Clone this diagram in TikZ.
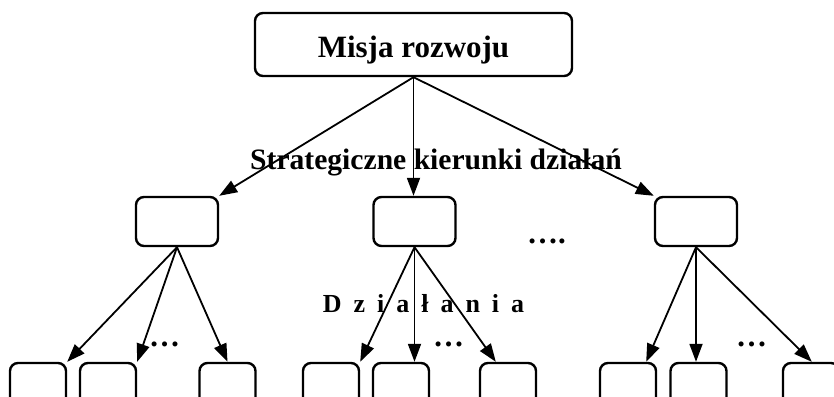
\documentclass[tikz,border=0pt]{standalone}
\usepackage{fontspec}
\setmainfont{Liberation Serif}
\usetikzlibrary{arrows.meta,calc}
\newcommand{\lsp}{\hspace{12pt}}
\begin{document}
\begin{tikzpicture}[x=1pt,y=-1pt,
  box/.style={draw,line width=2.4pt,rounded corners=8pt,inner sep=0pt},
  midbox/.style={box,minimum width=82pt,minimum height=49pt},
  lowbox/.style={box,minimum width=56pt,minimum height=60pt},
  arr/.style={line width=1.8pt,-{Triangle[length=18pt,width=13pt]}},
  lbl/.style={font=\bfseries,inner sep=0pt,anchor=base}]
\useasboundingbox (0,0) rectangle (834,396);
\clip (0,0) rectangle (834,396);
% top
\node[box,minimum width=317pt,minimum height=63pt] (top) at (413.5,44.5) {};
\node[lbl,font=\bfseries\fontsize{31}{36}\selectfont] (toptext) at (413.5,57) {Misja rozwoju};
% level 2
\node[midbox] (left) at (177,221.5) {};
\node[midbox] (mid) at (414.5,221.5) {};
\node[midbox] (right) at (696,221.5) {};
% level 3
\node[lowbox] (b1) at (38,393) {};
\node[lowbox] (b2) at (108,393) {};
\node[lowbox] (b3) at (227.5,393) {};
\node[lowbox] (b4) at (331,393) {};
\node[lowbox] (b5) at (401,393) {};
\node[lowbox] (b6) at (508,393) {};
\node[lowbox] (b7) at (628,393) {};
\node[lowbox] (b8) at (698.5,393) {};
\node[lowbox] (b9) at (811,393) {};
% arrows
\draw[arr] (top.south) -- (left.north east);
\draw[arr] (top.south) -- (top.south |- mid.north);
\draw[arr] (top.south) -- (right.north west);
\draw[arr] (left.south) -- (b1.north east);
\draw[arr] (left.south) -- (b2.north east);
\draw[arr] (left.south) -- (b3.north);
\draw[arr] (mid.south) -- (b4.north east);
\draw[arr] (mid.south) -- (mid.south |- b5.north);
\draw[arr] (mid.south) -- ($(b6.north west)+(17,0)$);
\draw[arr] (right.south) -- ($(b7.north east)+(-11,0)$);
\draw[arr] (right.south) -- (right.south |- b8.north);
\draw[arr] (right.south) -- ($(b9.north west)+(30,0)$);
% labels
\node[lbl,font=\bfseries\fontsize{29.6}{34}\selectfont] (strat) at (436,169) {Strategiczne kierunki działań};
\node[lbl,font=\bfseries\fontsize{26}{30}\selectfont] (dzial) at (423.5,312) {D\lsp z\lsp i\lsp a\lsp ł\lsp a\lsp n\lsp i\lsp a};
\node[lbl,anchor=base west,font=\bfseries\fontsize{31}{36}\selectfont] (dots4) at (527,243) {….};
\node[lbl,anchor=base west,font=\bfseries\fontsize{31}{36}\selectfont] (dotsL) at (149,346) {…};
\node[lbl,anchor=base west,font=\bfseries\fontsize{31}{36}\selectfont] (dotsM) at (433,346) {…};
\node[lbl,anchor=base west,font=\bfseries\fontsize{31}{36}\selectfont] (dotsR) at (736,346) {…};
\end{tikzpicture}
\end{document}
